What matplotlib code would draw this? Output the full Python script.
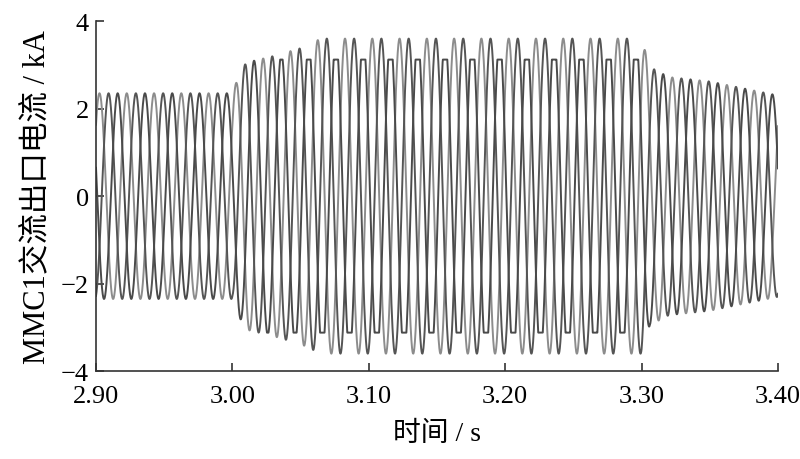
import numpy as np
import matplotlib
matplotlib.use('Agg')
import matplotlib.pyplot as plt

plt.rcParams['font.family'] = ['Liberation Serif', 'Noto Sans CJK SC']
plt.rcParams['axes.unicode_minus'] = True

# envelope of the three-phase current (time s, amplitude kA)
env_t = [2.90, 3.000, 3.004, 3.010, 3.030, 3.050, 3.065, 3.300, 3.306, 3.320, 3.350, 3.400]
env_a = [2.35, 2.35, 2.70, 3.05, 3.20, 3.38, 3.60, 3.60, 2.95, 2.72, 2.62, 2.30]
# flat-top (saturation) level of the distorted phase during the fault
clip_t = [2.90, 3.004, 3.005, 3.300, 3.301, 3.40]
clip_v = [9.0, 9.0, 3.12, 3.12, 9.0, 9.0]
freq = 50.0
phase_deg = [-46.0, -166.0, 74.0]
line_colors = ['#8c8c8c', '#555555', '#4a4a4a']
clipped = [False, False, True]

xticks = [2.90, 3.00, 3.10, 3.20, 3.30, 3.40]
yticks = [-4, -2, 0, 2, 4]

t = np.linspace(2.90, 3.40, 6000)
amp = np.interp(t, env_t, env_a)
lim = np.interp(t, clip_t, clip_v)

fig = plt.figure(figsize=(8, 4.6), dpi=100)
ax = fig.add_axes([0.12, 0.191, 0.8525, 0.761])

for ph, c, cl in zip(phase_deg, line_colors, clipped):
    y = amp * np.cos(2 * np.pi * freq * (t - 3.40) + np.deg2rad(ph))
    if cl:
        y = np.clip(y, -lim, lim)
    ax.plot(t, y, color=c, lw=1.4)

ax.set_xlim(2.90, 3.40)
ax.set_ylim(-4, 4)
ax.set_xticks(xticks)
ax.set_xticklabels([f'{v:.2f}' for v in xticks])
ax.set_yticks(yticks)
ax.spines['top'].set_visible(False)
ax.spines['right'].set_visible(False)
for s in ('left', 'bottom'):
    ax.spines[s].set_color('#333333')
    ax.spines[s].set_linewidth(1.2)
ax.tick_params(direction='in', length=6, width=1.2, color='#333333',
               labelsize=19)
ax.tick_params(axis='x', pad=10)
ax.tick_params(axis='y', pad=5)
ax.set_xlabel('时间 / s', fontsize=20, labelpad=10)
ax.set_ylabel('MMC1交流出口电流 / kA', fontsize=22, labelpad=6)

fig.savefig('out.png', dpi=100)
